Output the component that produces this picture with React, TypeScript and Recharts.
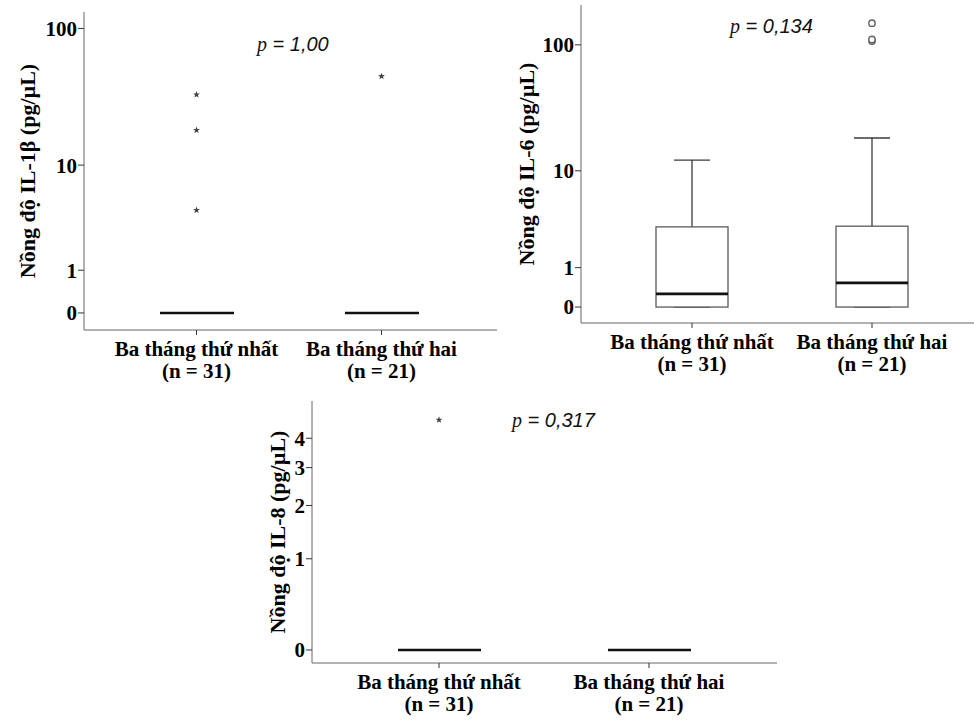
import React from "react";
import { Bar, ComposedChart, Scatter, XAxis, YAxis } from "recharts";

// groups on the x axis
const groups = ["Ba tháng thứ nhất", "Ba tháng thứ hai"];
const groupN = [31, 21];

// IL-1β (pg/µL): whisker low, Q1, median, Q3, whisker high per group
const il1bMin = [0, 0];
const il1bQ1 = [0, 0];
const il1bMedian = [0, 0];
const il1bQ3 = [0, 0];
const il1bMax = [0, 0];
const il1bExtremes = [[4.3, 18.4, 33.5], [45.5]];
const il1bTicks = [0, 1, 10, 100];

// IL-6 (pg/µL)
const il6Min = [0, 0];
const il6Q1 = [0, 0];
const il6Median = [0.26, 0.53];
const il6Q3 = [3.1, 3.15];
const il6Max = [12.3, 18.6];
const il6Outliers = [[], [107, 110, 147]];
const il6Ticks = [0, 1, 10, 100];

// IL-8 (pg/µL)
const il8Min = [0, 0];
const il8Q1 = [0, 0];
const il8Median = [0, 0];
const il8Q3 = [0, 0];
const il8Max = [0, 0];
const il8Extremes = [[4.75], []];
const il8Ticks = [0, 1, 2, 3, 4];

// axis is log10(x + 1)
const t = (v: number) => Math.log10(v + 1);
const untick = (v: number) => String(Math.round(Math.pow(10, v) - 1));

const SERIF = "'Liberation Serif', 'Times New Roman', serif";
const OUTLIER_KEYS = ["o0", "o1", "o2"];

function buildRows(min: number[], q1: number[], med: number[], q3: number[], max: number[], outs: number[][]) {
  return groups.map((name, i) => {
    const row: any = {
      name,
      whisker: [t(min[i]), t(max[i])],
      box: [t(q1[i]), t(q3[i])],
      median: [t(med[i]), t(med[i])],
    };
    outs[i].forEach((v, k) => {
      row[`o${k}`] = t(v);
    });
    return row;
  });
}

const GroupTick = (props: any) => {
  const { x, y, payload } = props;
  const i = groups.indexOf(payload.value);
  return (
    <g>
      <text x={x} y={y + 20} textAnchor="middle" fontFamily={SERIF} fontWeight="bold" fontSize={21} fill="#000">
        {payload.value}
      </text>
      <text x={x} y={y + 42} textAnchor="middle" fontFamily={SERIF} fontWeight="bold" fontSize={21} fill="#000">
        (n = {groupN[i]})
      </text>
    </g>
  );
};

const makeWhisker = (cap: number) => (props: any) => {
  const { x, y, width, height } = props;
  const cx = x + width / 2;
  return (
    <g stroke="#3a3a3a" strokeWidth={1.3}>
      <line x1={cx} x2={cx} y1={y} y2={y + height} />
      <line x1={cx - cap / 2} x2={cx + cap / 2} y1={y} y2={y} />
      <line x1={cx - cap / 2} x2={cx + cap / 2} y1={y + height} y2={y + height} />
    </g>
  );
};

const BoxShape = (props: any) => {
  const { x, y, width, height } = props;
  return <rect x={x} y={y} width={width} height={Math.max(height, 0)} fill="#fff" stroke="#5a5a5a" strokeWidth={1.3} />;
};

const MedianShape = (props: any) => {
  const { x, y, width } = props;
  return <line x1={x} x2={x + width} y1={y} y2={y} stroke="#111" strokeWidth={2.6} />;
};

const StarShape = (props: any) => {
  const { cx, cy } = props;
  if (cx == null || cy == null || isNaN(cy)) return <g />;
  const pts: string[] = [];
  for (let k = 0; k < 10; k++) {
    const r = k % 2 === 0 ? 3.6 : 1.5;
    const a = -Math.PI / 2 + (k * Math.PI) / 5;
    pts.push(`${cx + r * Math.cos(a)},${cy + r * Math.sin(a)}`);
  }
  return <polygon points={pts.join(" ")} fill="#444" />;
};

const CircleShape = (props: any) => {
  const { cx, cy } = props;
  if (cx == null || cy == null || isNaN(cy)) return <g />;
  return <circle cx={cx} cy={cy} r={3.2} fill="#fff" stroke="#666" strokeWidth={1.4} />;
};

interface PanelProps {
  rows: any[];
  ticks: number[];
  domain: [number, number];
  yLabel: string;
  labelOffset: number;
  left: number;
  top: number;
  width: number;
  height: number;
  margin: { top: number; right: number; bottom: number; left: number };
  yAxisWidth: number;
  xAxisHeight: number;
  pad: { left: number; right: number };
  boxWidth: number;
  outlier: "star" | "circle";
}

function BoxPanel(p: PanelProps) {
  const tickT = p.ticks.map(t);
  return (
    <div style={{ position: "absolute", left: p.left, top: p.top }}>
      <ComposedChart width={p.width} height={p.height} data={p.rows} margin={p.margin}>
        <XAxis
          dataKey="name"
          padding={p.pad}
          height={p.xAxisHeight}
          tick={<GroupTick />}
          tickSize={5}
          tickMargin={1}
          interval={0}
          tickLine={{ stroke: "#333" }}
          axisLine={{ stroke: "#666" }}
        />
        <XAxis xAxisId="top" orientation="top" dataKey="name" height={0} tick={false} tickLine={false} axisLine={{ stroke: "#777" }} />
        <XAxis xAxisId="box" dataKey="name" padding={p.pad} hide />
        <XAxis xAxisId="med" dataKey="name" padding={p.pad} hide />
        <YAxis
          type="number"
          domain={p.domain}
          ticks={tickT}
          allowDataOverflow
          interval={0}
          width={p.yAxisWidth}
          tickFormatter={untick}
          tickSize={6}
          tickMargin={1}
          tickLine={{ stroke: "#333" }}
          axisLine={{ stroke: "#666" }}
          tick={{ fill: "#000", fontFamily: SERIF, fontWeight: "bold", fontSize: 21 }}
          label={{
            value: p.yLabel,
            angle: -90,
            position: "insideLeft",
            offset: p.labelOffset,
            style: { textAnchor: "middle", fontFamily: SERIF, fontWeight: "bold", fontSize: 22, fill: "#000" },
          }}
        />
        <YAxis yAxisId="right" orientation="right" type="number" domain={[0, 1]} width={0} tick={false} tickLine={false} axisLine={{ stroke: "#777" }} />
        <Bar dataKey="whisker" barSize={p.boxWidth} shape={makeWhisker(p.boxWidth / 2)} isAnimationActive={false} />
        <Bar dataKey="box" xAxisId="box" barSize={p.boxWidth} shape={BoxShape} isAnimationActive={false} />
        <Bar dataKey="median" xAxisId="med" barSize={p.boxWidth} shape={MedianShape} isAnimationActive={false} />
        {OUTLIER_KEYS.map((k) => (
          <Scatter key={k} dataKey={k} shape={p.outlier === "star" ? StarShape : CircleShape} isAnimationActive={false} />
        ))}
      </ComposedChart>
    </div>
  );
}

export default function App() {
  const il1bRows = buildRows(il1bMin, il1bQ1, il1bMedian, il1bQ3, il1bMax, il1bExtremes);
  const il6Rows = buildRows(il6Min, il6Q1, il6Median, il6Q3, il6Max, il6Outliers);
  const il8Rows = buildRows(il8Min, il8Q1, il8Median, il8Q3, il8Max, il8Extremes);

  const pStyle = { fontSize: 20, fontStyle: "italic" as const, fill: "#111" };
  const SANS = "'Liberation Sans', Arial, sans-serif";

  return (
    <div style={{ position: "absolute", left: 0, top: 0, width: 974, height: 720, overflow: "hidden", background: "#fff" }}>
      <BoxPanel
        rows={il1bRows}
        ticks={il1bTicks}
        domain={[-0.12, 2.12]}
        yLabel="Nồng độ IL-1β (pg/µL)"
        labelOffset={27}
        left={0}
        top={0}
        width={510}
        height={390}
        margin={{ top: 12, right: 13, bottom: 5, left: 0 }}
        yAxisWidth={84}
        xAxisHeight={55}
        pad={{ left: 20, right: 23 }}
        boxWidth={74}
        outlier="star"
      />
      <BoxPanel
        rows={il6Rows}
        ticks={il6Ticks}
        domain={[-0.122, 2.309]}
        yLabel="Nồng độ IL-6 (pg/µL)"
        labelOffset={26}
        left={500}
        top={0}
        width={500}
        height={390}
        margin={{ top: 5, right: 17, bottom: 12, left: 0 }}
        yAxisWidth={81}
        xAxisHeight={55}
        pad={{ left: 21, right: 21 }}
        boxWidth={72}
        outlier="circle"
      />
      <BoxPanel
        rows={il8Rows}
        ticks={il8Ticks}
        domain={[-0.043, 0.822]}
        yLabel="Nồng độ IL-8 (pg/µL)"
        labelOffset={37}
        left={240}
        top={390}
        width={550}
        height={330}
        margin={{ top: 11, right: 13, bottom: 5, left: 0 }}
        yAxisWidth={72}
        xAxisHeight={52}
        pad={{ left: 22, right: 23 }}
        boxWidth={83}
        outlier="star"
      />
      <svg width={974} height={720} style={{ position: "absolute", left: 0, top: 0, pointerEvents: "none" }}>
        <text x={257} y={51} {...pStyle}>
          <tspan fontFamily={SERIF}>p</tspan>
          <tspan fontFamily={SANS}> = 1,00</tspan>
        </text>
        <text x={730} y={33} {...pStyle}>
          <tspan fontFamily={SERIF}>p</tspan>
          <tspan fontFamily={SANS}> = 0,134</tspan>
        </text>
        <text x={512} y={427} {...pStyle}>
          <tspan fontFamily={SERIF}>p</tspan>
          <tspan fontFamily={SANS}> = 0,317</tspan>
        </text>
      </svg>
    </div>
  );
}
